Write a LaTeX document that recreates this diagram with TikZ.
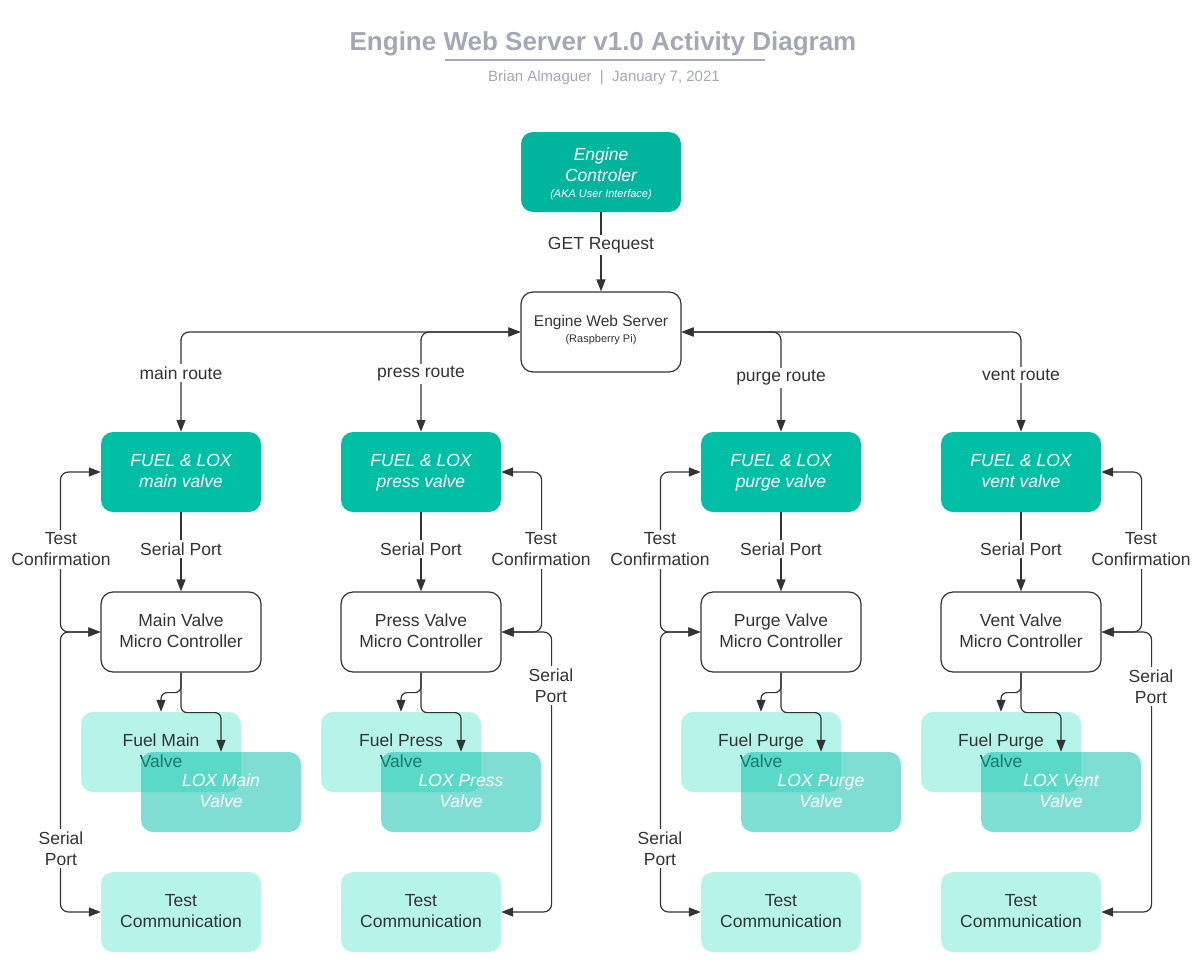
\documentclass[tikz,border=0pt]{standalone}
\usepackage{fontspec}
\setmainfont{Liberation Sans}
\usetikzlibrary{arrows.meta}
\definecolor{ink}{HTML}{333333}
\definecolor{ctrl}{HTML}{00B49E}
\definecolor{fuelc}{HTML}{00BFA5}
\definecolor{lightc}{HTML}{B6F4EA}
\definecolor{loxc}{HTML}{00BFA8}
\definecolor{titlegray}{HTML}{A3A8B3}
\newcommand{\bodyfont}{\fontsize{17.5}{21}\selectfont}
\newcommand{\smallfont}{\fontsize{11}{13}\selectfont}
\newcommand{\topst}{\rule{0pt}{15.5pt}}
\begin{document}
\begin{tikzpicture}[x=1pt,y=-1pt,
  >={Triangle[length=12pt,width=9pt]},
  box/.style={rounded corners=12pt, minimum width=160pt, minimum height=80pt, inner sep=0pt, align=center, text=ink, font=\bodyfont,
    execute at end node={\strut}},
  ctrlbox/.style={box, fill=ctrl, text=white, font=\itshape\bodyfont},
  fuelbox/.style={box, fill=fuelc, text=white, font=\itshape\bodyfont},
  mcbox/.style={box, draw=ink, line width=1.2pt, fill=white},
  valvebox/.style={box, fill=lightc},
  loxbox/.style={box, fill=loxc, fill opacity=0.5, text opacity=1, text=white, font=\itshape\bodyfont},
  conn/.style={draw=ink, line width=1.2pt, rounded corners=8pt},
  lbl/.style={fill=white, text=ink, align=center, inner sep=2.5pt, font=\bodyfont},
  lbltwo/.style={fill=white, text=ink, align=center, inner sep=2.5pt, font=\bodyfont}
]
\useasboundingbox[fill=white] (0,0) rectangle (1203,967);

% title
\node[text=titlegray, font=\bfseries\fontsize{26}{30}\selectfont] (title) at (603,44) {Engine Web Server v1.0 Activity Diagram};
\draw[titlegray, line width=2pt] (445,60) -- (765,60);
\node[text=titlegray, font=\fontsize{15}{18}\selectfont] (sub) at (604,78) {Brian Almaguer~~|~~January 7, 2021};

% top nodes
\node[ctrlbox] (ec) at (601,172) {\rule{0pt}{20pt}Engine\\Controler\\[-5pt]{\smallfont (AKA User Interface)}};
\node[mcbox, font=\fontsize{15.5}{18}\selectfont, execute at end node={}] (ws) at (601,332) {Engine Web Server\\[-2pt]{\smallfont (Raspberry Pi)}};
\draw[conn,->] (ec.south) -- (ws.north);
\node[lbl] (getl) at (601,245) {GET Request};

% columns
\foreach \i/\cx/\lname/\Name/\fuelname/\loxname in {1/181/main/Main/Main/Main, 2/421/press/Press/Press/Press, 3/781/purge/Purge/Purge/Purge, 4/1021/vent/Vent/Purge/Vent}{
  \node[fuelbox] (f\i) at (\cx,472) {\topst FUEL \& LOX\\\lname\ valve};
  \node[mcbox] (m\i) at (\cx,632) {\topst\Name\ Valve\\Micro Controller};
  \node[valvebox] (fv\i) at (\cx-20,752) {\topst Fuel \fuelname\\Valve};
  \node[loxbox] (lx\i) at (\cx+40,792) {\topst LOX \loxname\\Valve};
  \node[valvebox] (t\i) at (\cx,912) {\topst Test\\Communication};
  \draw[conn,->] (f\i.south) -- (m\i.north);
  \node[lbl] (sp\i) at (\cx,549) {Serial Port};
  \draw[conn,->, rounded corners=6pt] (m\i.south) -- ++(0,20) -| (fv\i.north);
  \draw[conn,->, rounded corners=6pt] (m\i.south) -- ++(0,40) -| (lx\i.north);
}

% routes
\draw[conn,<->] (ws.west) -| (f1.north);
\draw[conn,<->] (ws.west) -| (f2.north);
\draw[conn,<->] (ws.east) -| (f3.north);
\draw[conn,<->] (ws.east) -| (f4.north);
\node[lbl] (r1) at (181,373) {main route};
\node[lbl] (r2) at (421,374) {press route};
\node[lbl] (r3) at (781,378) {purge route};
\node[lbl] (r4) at (1021,375) {vent route};

% test confirmation and serial port loops
\foreach \i in {1,3}{
  \draw[conn,<->] (m\i.west) -- ++(-40,0) |- (f\i.west);
  \draw[conn,<->] (m\i.west) -- ++(-40,0) |- (t\i.west);
}
\foreach \i in {2,4}{
  \draw[conn,<->] (m\i.east) -- ++(40,0) |- (f\i.east);
  \draw[conn,<->] (m\i.east) -- ++(50,0) |- (t\i.east);
}
\node[lbltwo] (tc1) at (61,549.5) {Test\\Confirmation};
\node[lbltwo] (tc2) at (541,549.5) {Test\\Confirmation};
\node[lbltwo] (tc3) at (660,549.5) {Test\\Confirmation};
\node[lbltwo] (tc4) at (1141,549.5) {Test\\Confirmation};
\node[lbltwo] (sl1) at (61,848.5) {Serial\\Port};
\node[lbltwo] (sl2) at (551,685.5) {Serial\\Port};
\node[lbltwo] (sl3) at (660,848.5) {Serial\\Port};
\node[lbltwo] (sl4) at (1151,686.5) {Serial\\Port};
\end{tikzpicture}
\end{document}
